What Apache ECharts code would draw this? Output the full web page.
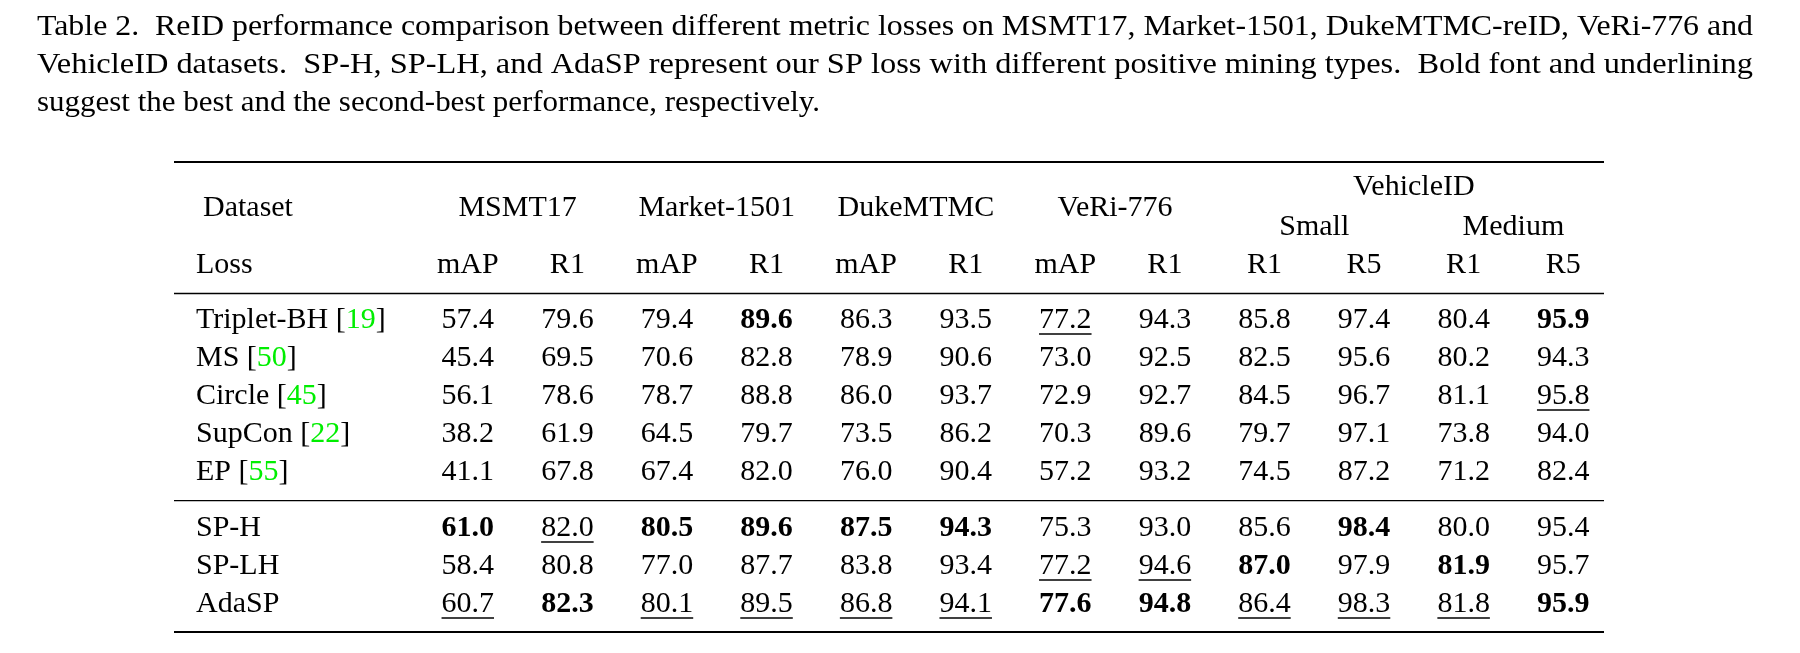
<!DOCTYPE html>
<html><head><meta charset="utf-8">
<script src="https://cdn.jsdelivr.net/npm/echarts@6/dist/echarts.min.js"></script>
<style>html,body{margin:0;padding:0;background:#fff}#c{width:1800px;height:653px}</style>
</head><body><div id="c"></div>
<script>
// ---------- data ----------
const captionLines = [
  'Table 2.  ReID performance comparison between different metric losses on MSMT17, Market-1501, DukeMTMC-reID, VeRi-776 and',
  'VehicleID datasets.  SP-H, SP-LH, and AdaSP represent our SP loss with different positive mining types.  Bold font and underlining',
  'suggest the best and the second-best performance, respectively.'
];
const metrics = ['mAP','R1','mAP','R1','mAP','R1','mAP','R1','R1','R5','R1','R5'];
const datasetHeaders = ['MSMT17','Market-1501','DukeMTMC','VeRi-776','',''];
const vehicleSubsets = ['','','','','Small','Medium'];
const vehicleHeader = ['','','VehicleID'];
const rowHeaderTop = 'Dataset';
const rowHeaderBottom = 'Loss';

const baselineMethods = ['Triplet-BH','MS','Circle','SupCon','EP'];
const baselineCites = ['19','50','45','22','55'];
const oursMethods = ['SP-H','SP-LH','AdaSP'];

const tripletBH = [57.4,79.6,79.4,89.6,86.3,93.5,77.2,94.3,85.8,97.4,80.4,95.9];
const ms        = [45.4,69.5,70.6,82.8,78.9,90.6,73.0,92.5,82.5,95.6,80.2,94.3];
const circle    = [56.1,78.6,78.7,88.8,86.0,93.7,72.9,92.7,84.5,96.7,81.1,95.8];
const supCon    = [38.2,61.9,64.5,79.7,73.5,86.2,70.3,89.6,79.7,97.1,73.8,94.0];
const ep        = [41.1,67.8,67.4,82.0,76.0,90.4,57.2,93.2,74.5,87.2,71.2,82.4];
const spH       = [61.0,82.0,80.5,89.6,87.5,94.3,75.3,93.0,85.6,98.4,80.0,95.4];
const spLH      = [58.4,80.8,77.0,87.7,83.8,93.4,77.2,94.6,87.0,97.9,81.9,95.7];
const adaSP     = [60.7,82.3,80.1,89.5,86.8,94.1,77.6,94.8,86.4,98.3,81.8,95.9];

// b = bold (best), u = underline (second best), - = plain
const tripletBHMarks = '---b--u----b';
const msMarks        = '------------';
const circleMarks    = '-----------u';
const supConMarks    = '------------';
const epMarks        = '------------';
const spHMarks       = 'bubbbb---b--';
const spLHMarks      = '------uub-b-';
const adaSPMarks     = 'ubuuuubbuuub';

const baselineValues = [tripletBH, ms, circle, supCon, ep];
const baselineMarks = [tripletBHMarks, msMarks, circleMarks, supConMarks, epMarks];
const oursValues = [spH, spLH, adaSP];
const oursMarks = [spHMarks, spLHMarks, adaSPMarks];

// ---------- styling ----------
const FAM = '"Liberation Serif", "Times New Roman", serif';
const FS = 30;
const BASE_OFF = 10;   // baseline offset from text middle
const UL_OFF = 14;     // underline offset from text middle
const GRID_L = 418, GRID_R = 187;
const LABEL_X = 196;
const ctx = document.createElement('canvas').getContext('2d');
function measure(t, bold){ ctx.font = (bold ? 'bold ' : '') + FS + 'px ' + FAM; return ctx.measureText(t).width; }

function buildData(values, marks){
  const out = [];
  values.forEach((row, r) => row.forEach((v, c) => {
    const m = marks[r][c] === 'b' ? 1 : (marks[r][c] === 'u' ? 2 : 0);
    out.push([c, r, v, m]);
  }));
  return out;
}

function renderCell(params, api){
  const p = api.coord([api.value(0), api.value(1)]);
  const v = api.value(2), m = api.value(3);
  const text = Number(v).toFixed(1);
  const bold = m === 1;
  const kids = [{
    type: 'text', x: p[0], y: p[1],
    style: { text, font: (bold ? 'bold ' : '') + FS + 'px ' + FAM, fill: '#000', align: 'center', verticalAlign: 'middle' }
  }];
  if (m === 2) {
    const w = measure(text, false);
    kids.push({ type: 'line', shape: { x1: p[0] - w/2, y1: p[1] + UL_OFF, x2: p[0] + w/2, y2: p[1] + UL_OFF },
      style: { stroke: '#000', lineWidth: 1.3 } });
  }
  return { type: 'group', children: kids };
}

const richRow = {
  t: { fontSize: FS, fontFamily: FAM, color: '#000' },
  g: { fontSize: FS, fontFamily: FAM, color: '#00ee00' }
};

function headerGrid(centerY){
  return { left: GRID_L, right: GRID_R, top: centerY, height: 1 };
}
function headerX(gridIndex, data){
  return {
    type: 'category', gridIndex, data, position: 'top',
    axisLine: { show: false }, axisTick: { show: false }, splitLine: { show: false },
    axisLabel: { interval: 0, margin: 0, verticalAlign: 'middle', fontSize: FS, fontFamily: FAM, color: '#000' }
  };
}
function hiddenY(gridIndex){ return { type: 'value', gridIndex, show: false, min: 0, max: 1 }; }

const chart = echarts.init(document.getElementById('c'), null, { renderer: 'canvas' });

// caption: each line one text; justified lines stretched to the text block width
const capLeft = 37, capBaselines = [37, 75, 113], capWidths = [1716, 1716, 783];
const graphics = [];
captionLines.forEach((line, i) => {
  const w = measure(line, false);
  const sx = capWidths[i] / w;
  graphics.push({ type: 'text', x: capLeft, y: capBaselines[i] - BASE_OFF, scaleX: sx,
    style: { text: line, font: FS + 'px ' + FAM, fill: '#000', verticalAlign: 'middle' } });
});
// row-header titles
graphics.push({ type: 'text', x: 203, y: 218 - BASE_OFF, style: { text: rowHeaderTop, font: FS + 'px ' + FAM, fill: '#000', verticalAlign: 'middle' } });
graphics.push({ type: 'text', x: LABEL_X, y: 275 - BASE_OFF, style: { text: rowHeaderBottom, font: FS + 'px ' + FAM, fill: '#000', verticalAlign: 'middle' } });
// booktabs rules
const ruleL = 174, ruleR = 1604;
[[162, 2.2], [293.5, 1.3], [500.7, 1.3], [632, 2.2]].forEach(([y, lw]) => {
  graphics.push({ type: 'line', shape: { x1: ruleL, y1: y, x2: ruleR, y2: y }, style: { stroke: '#000', lineWidth: lw } });
});

const option = {
  animation: false,
  backgroundColor: '#fff',
  grid: [
    { left: GRID_L, right: GRID_R, top: 301, height: 190 },  // 0 baselines
    { left: GRID_L, right: GRID_R, top: 509, height: 114 },  // 1 ours
    headerGrid(265),  // 2 metrics
    headerGrid(208),  // 3 datasets
    headerGrid(227),  // 4 vehicle subsets
    headerGrid(187)   // 5 VehicleID
  ],
  xAxis: [
    { type: 'category', gridIndex: 0, data: metrics, show: false },
    { type: 'category', gridIndex: 1, data: metrics, show: false },
    headerX(2, metrics),
    headerX(3, datasetHeaders),
    headerX(4, vehicleSubsets),
    headerX(5, vehicleHeader)
  ],
  yAxis: [
    { type: 'category', gridIndex: 0, data: baselineMethods, inverse: true,
      axisLine: { show: false }, axisTick: { show: false }, splitLine: { show: false },
      axisLabel: { align: 'left', margin: GRID_L - LABEL_X, interval: 0, rich: richRow,
        formatter: (val, idx) => '{t|' + val + ' [}{g|' + baselineCites[idx] + '}{t|]}' } },
    { type: 'category', gridIndex: 1, data: oursMethods, inverse: true,
      axisLine: { show: false }, axisTick: { show: false }, splitLine: { show: false },
      axisLabel: { align: 'left', margin: GRID_L - LABEL_X, interval: 0, rich: richRow,
        formatter: (val) => '{t|' + val + '}' } },
    hiddenY(2), hiddenY(3), hiddenY(4), hiddenY(5)
  ],
  series: [
    { type: 'custom', xAxisIndex: 0, yAxisIndex: 0, renderItem: renderCell, data: buildData(baselineValues, baselineMarks), encode: { x: 0, y: 1 }, silent: true },
    { type: 'custom', xAxisIndex: 1, yAxisIndex: 1, renderItem: renderCell, data: buildData(oursValues, oursMarks), encode: { x: 0, y: 1 }, silent: true }
  ],
  graphic: graphics
};
chart.setOption(option);
</script>
</body></html>
